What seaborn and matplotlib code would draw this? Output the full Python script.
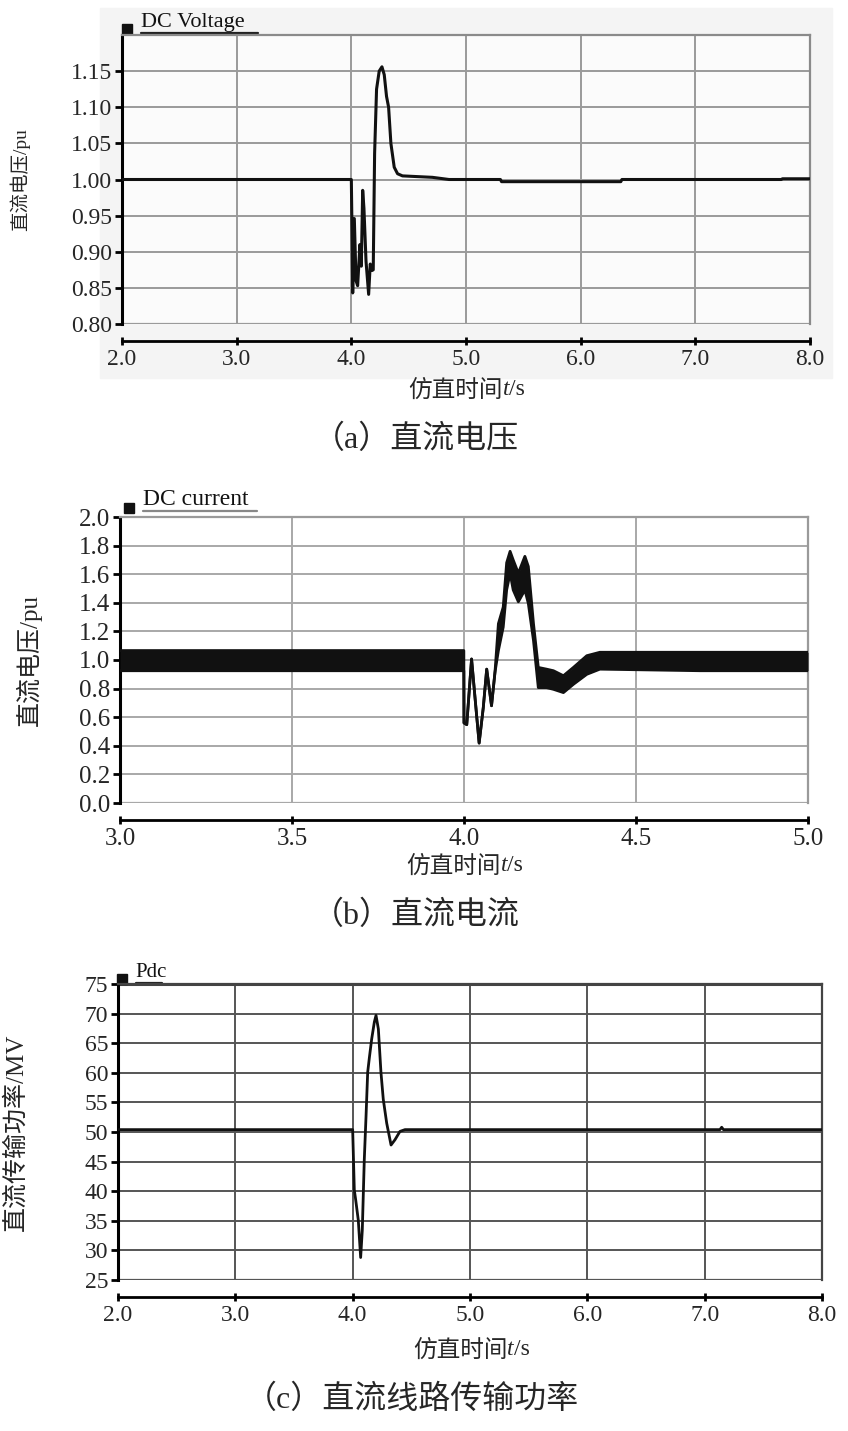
import numpy as np
import pandas as pd
import matplotlib
matplotlib.use("Agg")
import matplotlib.pyplot as plt
import seaborn as sns
from matplotlib.lines import Line2D
from matplotlib.patches import Rectangle

# ---------------- data ----------------
# (a) DC voltage, pu
t_volt = [2.0, 4.0, 4.006, 4.012, 4.026, 4.041, 4.055, 4.075, 4.087, 4.099, 4.11,
          4.128, 4.151, 4.165, 4.18, 4.191, 4.203, 4.22, 4.243, 4.267, 4.287, 4.307,
          4.325, 4.345, 4.374, 4.403, 4.446, 4.707, 4.852, 5.3, 5.31, 6.35, 6.36,
          7.75, 7.76, 8.0]
dc_volt = [1.0, 1.0, 0.927, 0.843, 0.946, 0.86, 0.853, 0.91, 0.88, 0.985, 0.96,
           0.887, 0.841, 0.883, 0.874, 0.875, 1.036, 1.125, 1.15, 1.156, 1.145, 1.115,
           1.10, 1.05, 1.017, 1.008, 1.005, 1.003, 1.0, 1.0, 0.997, 0.997, 1.0,
           1.0, 1.001, 1.001]

# (b) DC current, pu (upper / lower envelope of the fast ripple band)
t_curr = [3.0, 3.9995, 4.0, 4.008, 4.022, 4.032, 4.044, 4.056, 4.066, 4.080, 4.090,
          4.100, 4.114, 4.124, 4.134, 4.143, 4.158, 4.177, 4.187, 4.202, 4.216,
          4.240, 4.260, 4.289, 4.318, 4.357, 4.395, 4.686, 5.0]
curr_hi = [1.066, 1.066, 0.56, 0.548, 1.007, 0.737, 0.419, 0.666, 0.936, 0.68, 0.913,
           1.254, 1.37, 1.68, 1.76, 1.70, 1.607, 1.725, 1.654, 1.254, 0.948,
           0.936, 0.925, 0.89, 0.948, 1.03, 1.054, 1.054, 1.054]
curr_lo = [0.925, 0.925, 0.56, 0.548, 1.007, 0.737, 0.419, 0.666, 0.936, 0.68, 0.913,
           1.066, 1.23, 1.49, 1.607, 1.49, 1.407, 1.49, 1.395, 1.136, 0.807,
           0.807, 0.795, 0.772, 0.83, 0.90, 0.936, 0.925, 0.925]

# (c) DC line power
t_pdc = [2.0, 4.0, 4.014, 4.026, 4.048, 4.068, 4.082, 4.099, 4.114, 4.128, 4.142,
         4.162, 4.185, 4.199, 4.219, 4.241, 4.261, 4.29, 4.327, 4.361, 4.403, 4.446,
         7.13, 7.145, 7.16, 8.0]
pdc = [50.4, 50.4, 40.2, 38.5, 35.1, 28.8, 33.4, 45.3, 52.7, 60.1, 62.5,
       65.7, 68.6, 69.7, 67.4, 60.1, 55.5, 51.5, 47.8, 48.7, 50.1, 50.4,
       50.4, 50.8, 50.4, 50.4]

xticks_a = [2.0, 3.0, 4.0, 5.0, 6.0, 7.0, 8.0]
yticks_a = [0.80, 0.85, 0.90, 0.95, 1.00, 1.05, 1.10, 1.15]
xticks_b = [3.0, 3.5, 4.0, 4.5, 5.0]
yticks_b = [0.0, 0.2, 0.4, 0.6, 0.8, 1.0, 1.2, 1.4, 1.6, 1.8, 2.0]
yticks_c = [25, 30, 35, 40, 45, 50, 55, 60, 65, 70, 75]

# ---------------- style ----------------
sns.set_theme(style="white")
FAM = ["Liberation Serif", "Noto Sans CJK SC", "DejaVu Sans"]
plt.rcParams["font.family"] = FAM
plt.rcParams["axes.unicode_minus"] = False

W, H = 848, 1431
fig = plt.figure(figsize=(W / 100, H / 100), dpi=100)

def px_axes(l, t, r, b):
    return fig.add_axes([l / W, 1 - b / H, (r - l) / W, (b - t) / H])

# faint grey screenshot background behind panel (a)
bg = Rectangle((100 / W, 1 - 378 / H), 732 / W, 370 / H,
               transform=fig.transFigure, color="#f4f4f4", zorder=-5)
fig.patches.append(bg)

def style_axes(ax, xlim, ylim, xticks, yticks, fmt_x, fmt_y, gridc, borderc, tsize):
    ax.set_xlim(*xlim)
    ax.set_ylim(*ylim)
    ax.set_xticks(xticks)
    ax.set_yticks(yticks)
    ax.set_xticklabels([fmt_x.format(v) for v in xticks])
    ax.set_yticklabels([fmt_y.format(v) for v in yticks])
    for v in xticks[1:-1]:
        ax.axvline(v, color=gridc, lw=1.4, zorder=1)
    for v in yticks:
        ax.axhline(v, color=gridc, lw=1.4, zorder=1)
    ax.axhline(ylim[0], color=gridc, lw=1.6, zorder=1)
    ax.spines["left"].set_color("black")
    ax.spines["left"].set_linewidth(2.2)
    ax.spines["top"].set_color(borderc)
    ax.spines["top"].set_linewidth(1.6)
    ax.spines["right"].set_color(borderc)
    ax.spines["right"].set_linewidth(1.6)
    ax.spines["bottom"].set_position(("outward", 12))
    ax.spines["bottom"].set_color("black")
    ax.spines["bottom"].set_linewidth(2.0)
    ax.tick_params(axis="y", direction="out", length=5, width=2, color="black",
                   labelsize=tsize, pad=2, left=True)
    ax.tick_params(axis="x", direction="inout", length=6, width=2, color="black",
                   labelsize=tsize, pad=3, bottom=True)
    for lab in ax.get_xticklabels() + ax.get_yticklabels():
        lab.set_family(FAM)
    ax.set_xlabel("")

def time_label(ax, xsplit, y):
    # "仿直时间t/s" with an italic t; the latin part lifted a touch to sit level
    dy = 3.0 / (ax.get_position().height * H)
    ax.text(xsplit, y, "仿直时间", transform=ax.transAxes, ha="right", va="baseline",
            fontsize=17, family=FAM)
    ax.text(xsplit, y + dy, "t", transform=ax.transAxes, ha="left", va="baseline",
            fontsize=17, family="Liberation Serif", style="italic")
    ax.text(xsplit + 0.009, y + dy, "/s", transform=ax.transAxes, ha="left",
            va="baseline", fontsize=17, family="Liberation Serif")

def legend_tag(ax, x0, x1, y, text, linec, size):
    ax.plot([x0 - 0.02], [y + 0.008], marker="s", ms=7, color="#111111",
            transform=ax.transAxes, clip_on=False)
    ax.text(x0, y, text, transform=ax.transAxes, fontsize=size, family=FAM,
            va="bottom", ha="left", color="#111111")
    ax.add_line(Line2D([x0, x1], [y - 0.004, y - 0.004], transform=ax.transAxes,
                       color=linec, lw=1.6, clip_on=False))

# ---------------- (a) DC voltage ----------------
ax1 = px_axes(122, 35, 810, 324)
ax1.set_facecolor("#fbfbfb")
df_a = pd.DataFrame({"t": t_volt, "v": dc_volt})
sns.lineplot(data=df_a, x="t", y="v", ax=ax1, color="#111111", lw=2.2,
             estimator=None, sort=False, zorder=3)
style_axes(ax1, (2.0, 8.0), (0.80, 1.20), xticks_a, yticks_a, "{:.1f}", "{:.2f}",
           "#9a9a9a", "#8a8a8a", 17)
time_label(ax1, 0.554, -0.256)
ax1.set_ylabel("直流电压/pu", fontsize=14, family=FAM)
ax1.yaxis.set_label_coords(-0.134, 0.5)
legend_tag(ax1, 0.027, 0.197, 1.012, "DC Voltage", "#222222", 16)

# ---------------- (b) DC current ----------------
ax2 = px_axes(120, 517, 808, 803)
df_b = pd.DataFrame({"t": t_curr, "hi": curr_hi, "lo": curr_lo})
ax2.fill_between(df_b["t"], df_b["lo"], df_b["hi"], color="#111111", lw=0, zorder=3)
sns.lineplot(data=df_b, x="t", y="hi", ax=ax2, color="#111111", lw=2.0,
             estimator=None, sort=False, zorder=3)
sns.lineplot(data=df_b, x="t", y="lo", ax=ax2, color="#111111", lw=2.0,
             estimator=None, sort=False, zorder=3)
style_axes(ax2, (3.0, 5.0), (0.0, 2.0), xticks_b, yticks_b, "{:.1f}", "{:.1f}",
           "#a8a8a8", "#9a9a9a", 18)
time_label(ax2, 0.554, -0.248)
ax2.set_ylabel("直流电压/pu", fontsize=18, family=FAM)
ax2.yaxis.set_label_coords(-0.113, 0.5)
legend_tag(ax2, 0.033, 0.199, 1.025, "DC current", "#888888", 17)

# ---------------- (c) DC line power ----------------
ax3 = px_axes(118, 984, 822, 1280)
df_c = pd.DataFrame({"t": t_pdc, "p": pdc})
sns.lineplot(data=df_c, x="t", y="p", ax=ax3, color="#111111", lw=2.0,
             estimator=None, sort=False, zorder=3)
style_axes(ax3, (2.0, 8.0), (25, 75), xticks_a, yticks_c, "{:.1f}", "{:d}",
           "#555555", "#444444", 17)
ax3.axhline(75, color="#444444", lw=2.2, zorder=2)
time_label(ax3, 0.553, -0.264)
ax3.set_ylabel("直流传输功率/MV", fontsize=18, family=FAM)
ax3.yaxis.set_label_coords(-0.128, 0.5)
legend_tag(ax3, 0.025, 0.062, 1.008, "Pdc", "#222222", 15)

# ---------------- captions ----------------
fig.text(416 / W, 1 - 440 / H, "（a）直流电压", ha="center", va="center",
         fontsize=23, family=FAM)
fig.text(416 / W, 1 - 916 / H, "（b）直流电流", ha="center", va="center",
         fontsize=23, family=FAM)
fig.text(412 / W, 1 - 1400 / H, "（c）直流线路传输功率", ha="center", va="center",
         fontsize=23, family=FAM)

fig.savefig("out.png", dpi=100, facecolor="white")
